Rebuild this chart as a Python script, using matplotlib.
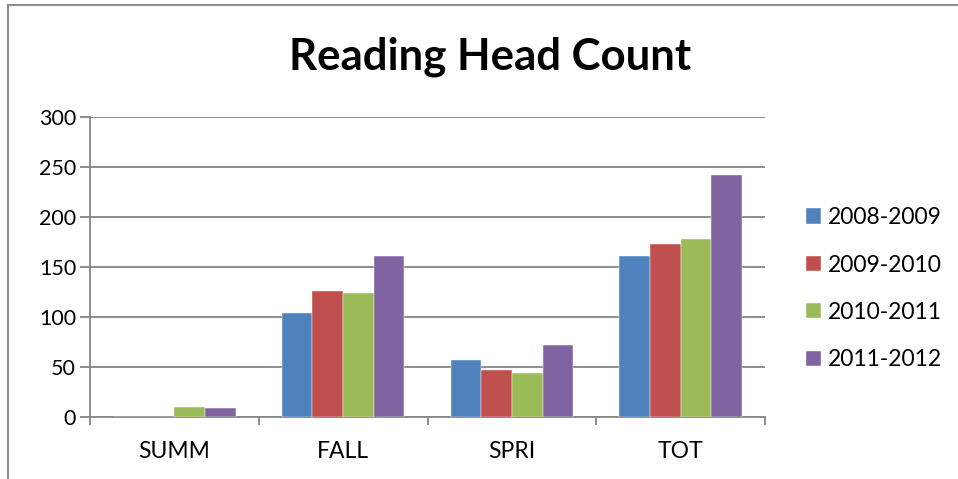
import matplotlib
matplotlib.use("Agg")
import matplotlib.pyplot as plt
from matplotlib.lines import Line2D
import numpy as np

categories = ["SUMM", "FALL", "SPRI", "TOT"]
series_names = ["2008-2009", "2009-2010", "2010-2011", "2011-2012"]
v2008 = [0, 104, 57, 161]
v2009 = [0, 126, 47, 173]
v2010 = [10, 124, 44, 178]
v2011 = [9, 161, 72, 242]
values = [v2008, v2009, v2010, v2011]
colors = ["#4F81BD", "#C0504D", "#9BBB59", "#8064A2"]
yticks = [0, 50, 100, 150, 200, 250, 300]

plt.rcParams['font.family'] = ['Lato', 'DejaVu Sans']

W, H = 958, 479
fig = plt.figure(figsize=(W / 100, H / 100), dpi=100)
ax = fig.add_axes([90 / W, (H - 417) / H, (765 - 90) / W, 300 / H])

x = np.arange(len(categories))
bw = 1 / 5.5
for i, (vals, c, name) in enumerate(zip(values, colors, series_names)):
    offs = (i - 1.5) * bw
    ax.bar(x + offs, vals, width=bw, color=c, label=name, zorder=3,
           edgecolor="white", linewidth=0.3)

ax.set_xlim(-0.5, 3.5)
ax.set_ylim(0, 300)
ax.set_yticks(yticks)
ax.set_yticklabels([str(t) for t in yticks], fontsize=15.5)
ax.yaxis.grid(True, color="#868686", linewidth=1.3, zorder=0)
ax.set_axisbelow(True)

ax.set_xticks(np.arange(-0.5, 3.6, 1.0))
ax.set_xticklabels([])
ax.set_xticks(x, minor=True)
ax.set_xticklabels(categories, minor=True, fontsize=16.5)
ax.tick_params(axis="x", which="minor", length=0, pad=17)
ax.tick_params(axis="x", which="major", length=6, color="#868686", width=1.3)
ax.tick_params(axis="y", length=7, color="#868686", width=1.3, pad=3)

for s in ["top", "right"]:
    ax.spines[s].set_visible(False)
for s in ["left", "bottom"]:
    ax.spines[s].set_color("#868686")
    ax.spines[s].set_linewidth(1.3)

fig.text(490 / W, 1 - 57 / H, "Reading Head Count", ha="center", va="center",
         fontsize=31.5, fontweight="bold")

leg = ax.legend(loc="upper left", bbox_to_anchor=(797 / W, 1 - 198 / H),
                bbox_transform=fig.transFigure, frameon=False, fontsize=16.5,
                handlelength=0.65, handleheight=0.65, handletextpad=0.3,
                labelspacing=1.15, borderaxespad=0)

fig.add_artist(Line2D([8 / W, 8 / W], [0, 1 - 4.5 / H], transform=fig.transFigure,
                      color="#8c8c8c", linewidth=1.5))
fig.add_artist(Line2D([8 / W, 1], [1 - 4.5 / H, 1 - 4.5 / H], transform=fig.transFigure,
                      color="#8c8c8c", linewidth=1.5))

fig.savefig("out.png", dpi=100)
